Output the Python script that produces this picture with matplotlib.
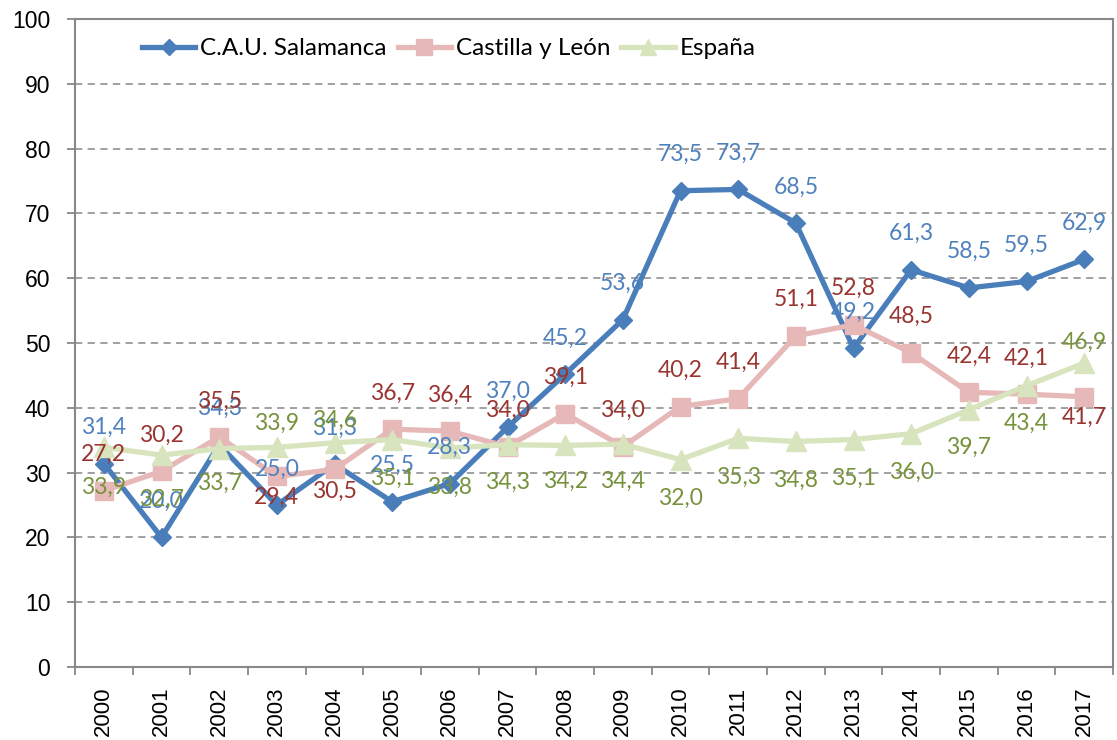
import matplotlib
matplotlib.use("Agg")
import matplotlib.pyplot as plt
import numpy as np

years = [str(y) for y in range(2000, 2018)]
salamanca = [31.4, 20.0, 34.3, 25.0, 31.3, 25.5, 28.3, 37.0, 45.2, 53.6, 73.5, 73.7, 68.5, 49.2, 61.3, 58.5, 59.5, 62.9]
castilla = [27.2, 30.2, 35.5, 29.4, 30.5, 36.7, 36.4, 34.0, 39.1, 34.0, 40.2, 41.4, 51.1, 52.8, 48.5, 42.4, 42.1, 41.7]
espana = [33.9, 32.7, 33.7, 33.9, 34.6, 35.1, 33.8, 34.3, 34.2, 34.4, 32.0, 35.3, 34.8, 35.1, 36.0, 39.7, 43.4, 46.9]
series_names = ["C.A.U. Salamanca", "Castilla y León", "España"]

# label vertical offsets (points) for each point
off_sal = [26] * 18
off_cas = [26, 26, 26, -15, -16, 26, 26, 26, 26, 26, 26, 26, 26, 26, 26, 26, 26, -15]
off_esp = [-29, -32, -25, 17, 16, -28, -28, -27, -26, -27, -28, -28, -28, -28, -28, -27, -27, 15]

fig = plt.figure(figsize=(11.17, 7.4), dpi=100)
ax = fig.add_axes([75 / 1117, 73 / 740, 1038 / 1117, 648 / 740])

x = np.arange(len(years))
styles = [
    (salamanca, "#4A7EBB", "D", 9.5, "#4F81BD", off_sal),
    (castilla, "#E6B9B8", "s", 13, "#993430", off_cas),
    (espana, "#D7E4BD", "^", 14, "#76923C", off_esp),
]
handles = []
for (vals, col, mk, ms, lcol, offs), name in zip(styles, series_names):
    h, = ax.plot(x, vals, color=col, lw=3.8, marker=mk, markersize=ms,
                 markerfacecolor=col, markeredgecolor=col, label=name, zorder=3)
    handles.append(h)

for (vals, col, mk, ms, lcol, offs) in styles:
    for xi, v, o in zip(x, vals, offs):
        ax.annotate(f"{v:.1f}".replace(".", ","), (xi, v), xytext=(0, o),
                    textcoords="offset points", ha="center", va="center",
                    color=lcol, fontsize=16.5, fontfamily="Lato", zorder=5)

ax.set_xlim(-0.5, len(years) - 0.5)
ax.set_ylim(0, 100)
ax.set_yticks(np.arange(0, 101, 10))
ax.yaxis.grid(True, color="#999999", ls=(0, (4, 3)), lw=1.3)
ax.set_axisbelow(True)
for s in ax.spines.values():
    s.set_color("#888888")
    s.set_linewidth(1.5)

ax.set_xticks(np.arange(-0.5, len(years), 1))
ax.set_xticklabels([])
ax.set_xticks(x, minor=True)
ax.set_xticklabels(years, minor=True, rotation=90, fontsize=16, fontfamily="Liberation Sans")
ax.tick_params(axis="x", which="major", length=5.8, color="#888888", width=1.3, direction="out")
ax.tick_params(axis="x", which="minor", length=0, pad=14)
ax.tick_params(axis="y", length=5.8, color="#888888", width=1.3, labelsize=16.5, pad=12)
for lab in ax.get_yticklabels():
    lab.set_fontfamily("Liberation Sans")

leg = ax.legend(handles=handles, loc="upper left", bbox_to_anchor=(0.0645, 0.970), ncol=3,
                frameon=False, handlelength=2.2, handletextpad=0.2, columnspacing=0.45,
                borderpad=0, borderaxespad=0,
                prop={"family": "Lato", "size": 17.5})
for lh in leg.legend_handles:
    lh.set_markersize(lh.get_markersize() * 0.85)

fig.savefig("out.png", dpi=100)
